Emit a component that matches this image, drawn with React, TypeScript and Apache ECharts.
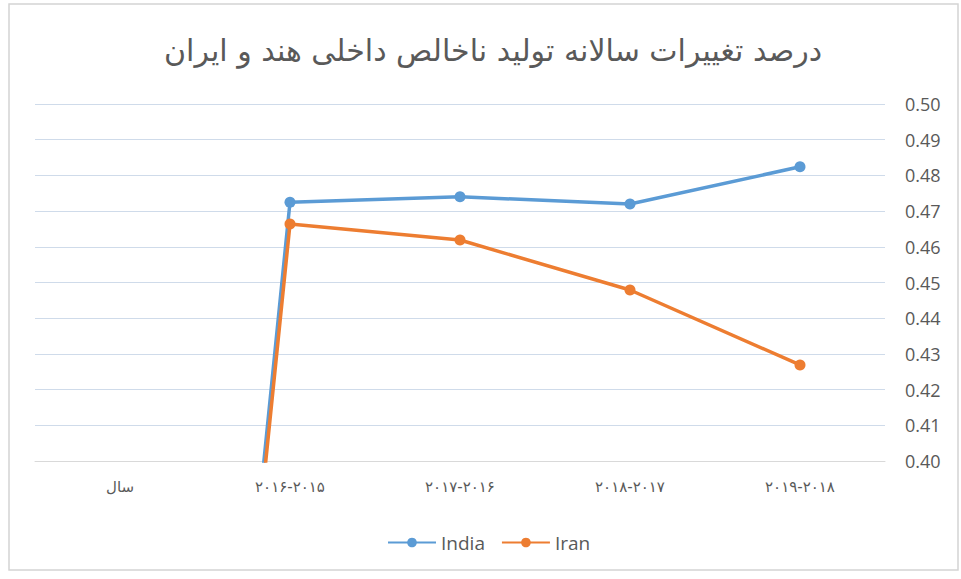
import React, { useEffect, useRef } from "react";
import * as echarts from "echarts";

const titleText = "درصد تغییرات سالانه تولید ناخالص داخلی هند و ایران";
const categories = ["سال", "۲۰۱۶-۲۰۱۵", "۲۰۱۷-۲۰۱۶", "۲۰۱۸-۲۰۱۷", "۲۰۱۹-۲۰۱۸"];
const india = [0, 0.4725, 0.474, 0.472, 0.4824];
const iran = [0, 0.4664, 0.4619, 0.4479, 0.4269];
const yMin = 0.4;
const yMax = 0.5;
const yStep = 0.01;

export default function App() {
  const ref = useRef<HTMLDivElement>(null);
  useEffect(() => {
    if (!ref.current) return;
    const chart = echarts.init(ref.current, null, { renderer: "svg" });
    const lineSeries = (name: string, data: number[], color: string) => ({
      name,
      type: "line",
      data,
      symbol: "circle",
      symbolSize: 11,
      showSymbol: true,
      clip: true,
      lineStyle: { color, width: 3.5 },
      itemStyle: { color },
    });
    chart.setOption({
      animation: false,
      backgroundColor: "#ffffff",
      title: {
        text: titleText,
        left: 488,
        textAlign: "center",
        top: 30,
        textStyle: {
          fontFamily: "DejaVu Sans, sans-serif",
          fontSize: 30,
          fontWeight: "normal",
          color: "#595959",
        },
      },
      graphic: [
        {
          type: "rect",
          shape: { x: 9, y: 4, width: 949, height: 566 },
          style: { fill: "none", stroke: "#d4d4d4", lineWidth: 1.5 },
          silent: true,
        },
      ],
      legend: {
        bottom: 22,
        left: 382,
        itemWidth: 48,
        itemHeight: 12,
        itemGap: 16,
        textStyle: { fontFamily: "Open Sans, sans-serif", fontSize: 19, color: "#595959" },
        data: ["India", "Iran"],
      },
      grid: { left: 35, right: 76, top: 104, bottom: 118, containLabel: false },
      xAxis: {
        type: "category",
        data: categories,
        boundaryGap: true,
        axisLine: { show: true, lineStyle: { color: "#d9d9d9", width: 1 } },
        axisTick: { show: false },
        axisLabel: {
          margin: 18,
          fontSize: 15,
          color: "#595959",
          fontFamily: "DejaVu Sans, sans-serif",
        },
      },
      yAxis: {
        type: "value",
        position: "right",
        min: yMin,
        max: yMax,
        interval: yStep,
        axisLine: { show: false },
        axisTick: { show: false },
        axisLabel: {
          margin: 20,
          fontSize: 18,
          color: "#595959",
          fontFamily: "Open Sans, sans-serif",
          formatter: (v: number) => v.toFixed(2),
        },
        splitLine: { lineStyle: { color: "#cfdbea", width: 1 } },
      },
      series: [lineSeries("India", india, "#5b9bd5"), lineSeries("Iran", iran, "#ed7d31")],
    });
    return () => chart.dispose();
  }, []);
  return (
    <div
      ref={ref}
      style={{ position: "fixed", left: 0, top: 0, width: 961, height: 579, background: "#fff" }}
    />
  );
}
